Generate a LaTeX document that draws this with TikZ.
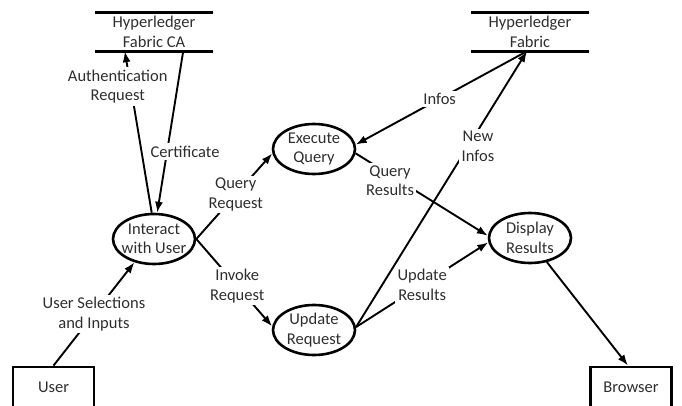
\documentclass[tikz,border=0pt]{standalone}
\usepackage{tikz}
\usepackage{xcolor}
\usepackage{fontspec}
\setmainfont{Carlito}
\usetikzlibrary{shapes.geometric,arrows.meta}

\begin{document}
\begin{tikzpicture}[x=1pt,y=1pt,font=\fontsize{16.5}{19.5}\selectfont,
  myproc/.style={ellipse,draw,line width=2.6pt,minimum width=82,minimum height=50,inner sep=-4pt,align=center,text=inkgray},
  myterm/.style={rectangle,draw,line width=2.8pt,minimum width=81,minimum height=40,text=inkgray},
  mystore/.style={minimum width=118,minimum height=38,inner sep=0pt,align=center,text=inkgray},
  mylbl/.style={fill=white,inner sep=2.5pt,align=center,text=inkgray},
  myflow/.style={line width=1.9pt,-{Latex[length=11pt,width=8pt]}}]
\definecolor{inkgray}{HTML}{2E2E2E}
\useasboundingbox (0,0) rectangle (682,405);
% stores
\node [mystore] (ca) at (154,373) {Hyperledger\\Fabric CA};
\node [mystore] (fab) at (530,373) {Hyperledger\\Fabric};
  \foreach \st in {ca,fab}
  {  \draw [line width=2.8pt] (\st.north west) -- (\st.north east);
     \draw [line width=2.8pt] (\st.south west) -- (\st.south east);}
% processes
\node [myproc] (int) at (154,166) {Interact\\with User};
\node [myproc] (exe) at (314,256) {Execute\\Query};
\node [myproc] (upd) at (314,75) {Update\\Request};
\node [myproc] (disp) at (530,167) {Display\\Results};
% external entities
\node [myterm] (user) at (53.5,18) {User};
\node [myterm] (brow) at (631,18) {Browser};
% flows
\draw [myflow] (int.95) -- node[mylbl,pos=0.78,xshift=-13]{Authentication\\Request} ([xshift=30]ca.south west);
\draw [myflow] ([xshift=-30]ca.south east) -- node[mylbl,pos=0.62,xshift=18]{Certificate} (int.83);
\draw [myflow] (user.north) -- node[mylbl,pos=0.5]{User Selections\\and Inputs} (int.-130);
\draw [myflow] (int.east) -- node[mylbl,pos=0.52]{Query\\Request} (exe.186);
\draw [myflow] (int.east) -- node[mylbl,pos=0.54]{Invoke\\Request} (upd.175);
\draw [myflow] ([xshift=-3]fab.south) -- node[mylbl,pos=0.51]{Infos} (exe.6);
\draw [myflow] (upd.4) -- node[mylbl,pos=0.655,xshift=10]{New\\Infos} ([xshift=-3]fab.south);
\draw [myflow] (exe.-6) -- node[mylbl,pos=0.26,yshift=-6]{Query\\Results} (disp.177);
\draw [myflow] (upd.4) -- node[mylbl,pos=0.5]{Update\\Results} (disp.186);
\draw [myflow] (disp.-55) -- ([xshift=-3]brow.north);
\end{tikzpicture}
\end{document}
